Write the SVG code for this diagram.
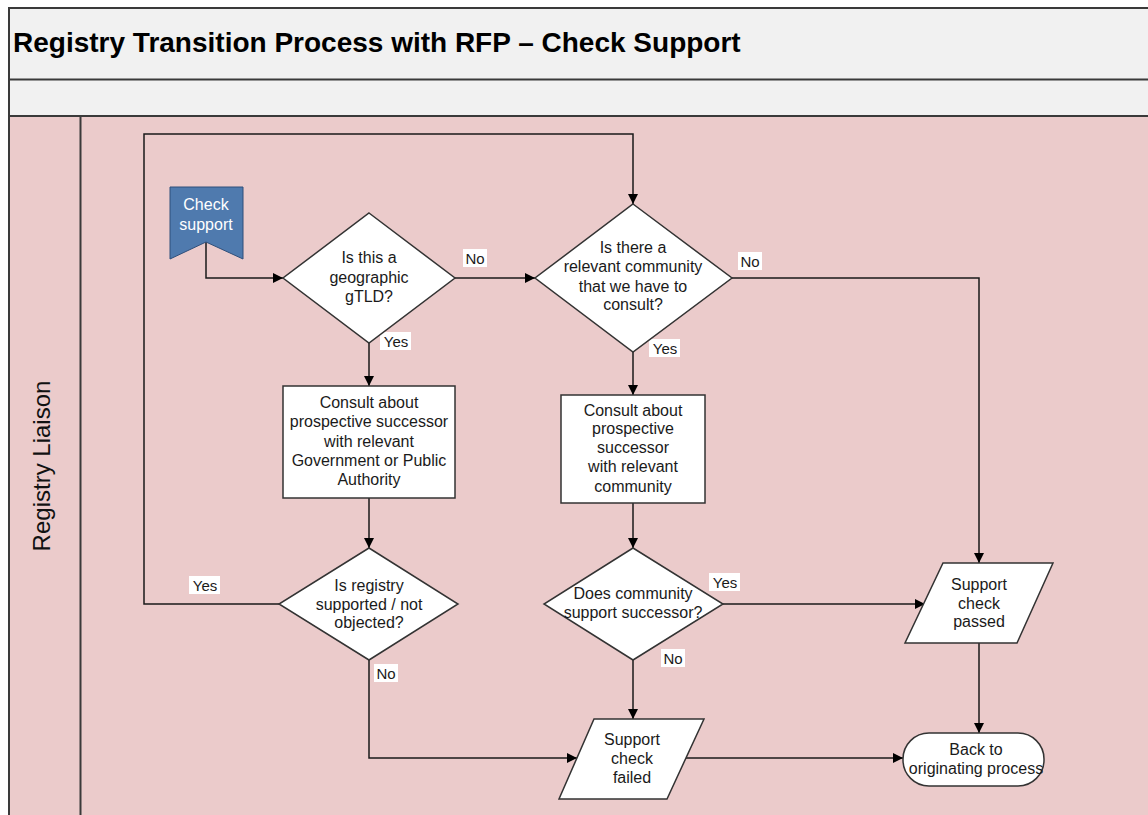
<svg xmlns="http://www.w3.org/2000/svg" width="1148" height="815" viewBox="0 0 1148 815">
<defs>
<marker id="ah" viewBox="0 0 10 10" refX="10" refY="5" markerWidth="10" markerHeight="10" markerUnits="userSpaceOnUse" orient="auto">
<path d="M0,0 L10,5 L0,10 z" fill="#000"/>
</marker>
<style>
.t{font-family:"Liberation Sans",Arial,sans-serif;font-size:16px;fill:#1a1a1a;text-anchor:middle}
.l{font-family:"Liberation Sans",Arial,sans-serif;font-size:15px;fill:#1a1a1a;text-anchor:middle}
.w{fill:#fff}
.sh{fill:#fff;stroke:#333;stroke-width:1.5}
.c{fill:none;stroke:#1a1a1a;stroke-width:1.5;marker-end:url(#ah)}
.lb{fill:#fff}
</style>
</defs>
<rect x="0" y="0" width="1148" height="815" fill="#fff"/>
<rect x="9" y="8" width="1145" height="71" fill="#f1f1f1"/>
<rect x="9" y="80" width="1145" height="36" fill="#f1f1f1"/>
<rect x="9" y="117" width="1145" height="700" fill="#ebcbcb"/>
<g stroke="#3a3a3a" stroke-width="2" fill="none">
<line x1="9" y1="8" x2="1148" y2="8"/>
<line x1="9" y1="79.5" x2="1148" y2="79.5"/>
<line x1="9" y1="116" x2="1148" y2="116"/>
<line x1="9" y1="7" x2="9" y2="815"/>
<line x1="80.5" y1="116" x2="80.5" y2="815"/>
</g>
<text x="13" y="52" style="font-family:'Liberation Sans',Arial,sans-serif;font-size:28px;font-weight:bold;fill:#000">Registry Transition Process with RFP – Check Support</text>
<text transform="translate(50,466) rotate(-90)" style="font-family:'Liberation Sans',Arial,sans-serif;font-size:24px;fill:#111;text-anchor:middle">Registry Liaison</text>

<g id="connectors">
<polyline class="c" points="206,242 206,278 283,278"/>
<line class="c" x1="455" y1="278" x2="535" y2="278"/>
<polyline class="c" points="732,278 979,278 979,563"/>
<line class="c" x1="369" y1="343" x2="369" y2="386"/>
<line class="c" x1="369" y1="498" x2="369" y2="548"/>
<polyline class="c" points="279,604 144,604 144,134 633,134 633,204"/>
<polyline class="c" points="369,660 369,758 577,758"/>
<line class="c" x1="633" y1="352" x2="633" y2="395"/>
<line class="c" x1="633" y1="503" x2="633" y2="548"/>
<line class="c" x1="723" y1="604" x2="925" y2="604"/>
<line class="c" x1="633" y1="660" x2="633" y2="719"/>
<line class="c" x1="979" y1="643" x2="979" y2="733"/>
<line class="c" x1="686" y1="758" x2="903" y2="758"/>
</g>

<g id="labels">
<rect class="lb" x="463" y="249" width="24" height="18"/><text class="l" x="475" y="264">No</text>
<rect class="lb" x="738" y="252" width="24" height="18"/><text class="l" x="750" y="267">No</text>
<rect class="lb" x="380" y="332" width="31" height="18"/><text class="l" x="396" y="347">Yes</text>
<rect class="lb" x="649" y="339" width="31" height="18"/><text class="l" x="665" y="354">Yes</text>
<rect class="lb" x="189" y="576" width="31" height="18"/><text class="l" x="205" y="591">Yes</text>
<rect class="lb" x="374" y="664" width="24" height="18"/><text class="l" x="386" y="679">No</text>
<rect class="lb" x="709" y="573" width="31" height="18"/><text class="l" x="725" y="588">Yes</text>
<rect class="lb" x="661" y="649" width="24" height="18"/><text class="l" x="673" y="664">No</text>
</g>

<g id="n-start">
<path d="M170,187 H243 V259 L206,242 L170,259 Z" fill="#4f7aae" stroke="#2f4f7a" stroke-width="1"/>
<text class="t w" x="206" y="210">Check</text>
<text class="t w" x="206" y="230">support</text>
</g>

<g id="n-geo">
<path class="sh" d="M369,213 L455,278 L369,343 L283,278 Z"/>
<text class="t" x="369" y="263">Is this a</text>
<text class="t" x="369" y="283">geographic</text>
<text class="t" x="369" y="302">gTLD?</text>
</g>

<g id="n-community">
<path class="sh" d="M633,204 L732,278 L633,352 L535,278 Z"/>
<text class="t" x="633" y="253">Is there a</text>
<text class="t" x="633" y="272">relevant community</text>
<text class="t" x="633" y="292">that we have to</text>
<text class="t" x="633" y="310">consult?</text>
</g>

<g id="n-consult-gov">
<rect class="sh" x="283" y="386" width="172" height="112"/>
<text class="t" x="369" y="408">Consult about</text>
<text class="t" x="369" y="427">prospective successor</text>
<text class="t" x="369" y="447">with relevant</text>
<text class="t" x="369" y="466">Government or Public</text>
<text class="t" x="369" y="485">Authority</text>
</g>

<g id="n-consult-com">
<rect class="sh" x="561" y="395" width="144" height="108"/>
<text class="t" x="633" y="416">Consult about</text>
<text class="t" x="633" y="434">prospective</text>
<text class="t" x="633" y="453">successor</text>
<text class="t" x="633" y="472">with relevant</text>
<text class="t" x="633" y="492">community</text>
</g>

<g id="n-supported">
<path class="sh" d="M369,548 L458,604 L369,660 L279,604 Z"/>
<text class="t" x="369" y="591">Is registry</text>
<text class="t" x="369" y="610">supported / not</text>
<text class="t" x="369" y="628">objected?</text>
</g>

<g id="n-com-support">
<path class="sh" d="M633,548 L723,604 L633,660 L544,604 Z"/>
<text class="t" x="633" y="599">Does community</text>
<text class="t" x="633" y="618">support successor?</text>
</g>

<g id="n-passed">
<path class="sh" d="M943,563 H1053 L1017,643 H905 Z"/>
<text class="t" x="979" y="590">Support</text>
<text class="t" x="979" y="609">check</text>
<text class="t" x="979" y="627">passed</text>
</g>

<g id="n-failed">
<path class="sh" d="M594,719 H704 L667,799 H559 Z"/>
<text class="t" x="632" y="745">Support</text>
<text class="t" x="632" y="764">check</text>
<text class="t" x="632" y="783">failed</text>
</g>

<g id="n-back">
<rect class="sh" x="903" y="733" width="141" height="53" rx="26" ry="26"/>
<text class="t" x="976" y="755">Back to</text>
<text class="t" x="976" y="774">originating process</text>
</g>
</svg>
